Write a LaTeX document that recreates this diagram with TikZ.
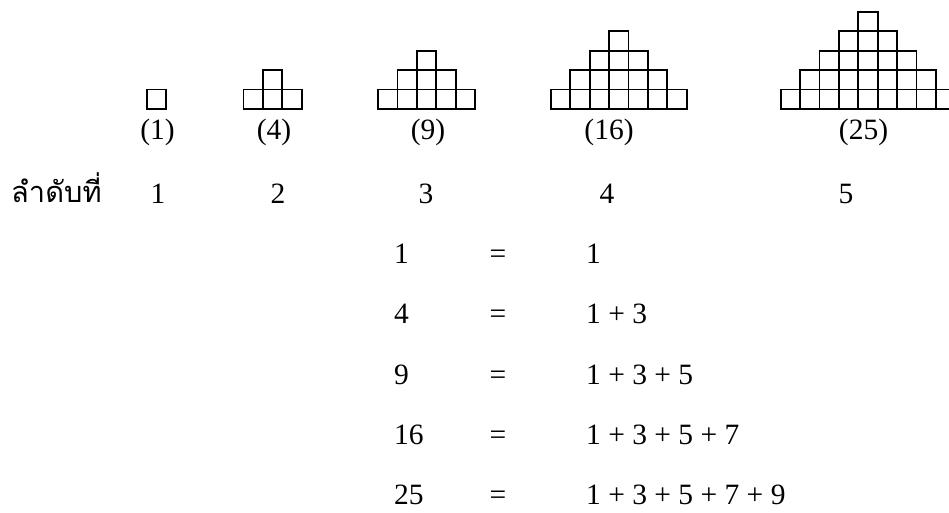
\documentclass[tikz,border=0pt]{standalone}
\usepackage{fontspec}
\setmainfont{Liberation Serif}
\newfontfamily\thaifont[Script=Thai]{Loma}
\begin{document}
\begin{tikzpicture}[x=1pt,y=-1pt,
  sq/.style={line width=1.8pt},
  txt/.style={font=\fontsize{29.5}{32}\selectfont, inner sep=0pt, anchor=base},
  lft/.style={txt, anchor=base west}]
\clip (0,0) rectangle (949,513);
\def\s{19.4}
\foreach \n/\cx in {1/156.5,2/272.5,3/426.6,4/618.7,5/868}{
  \foreach \r in {1,...,\n}{
    \pgfmathtruncatemacro\k{2*(\n-\r)+1}
    \foreach \j in {1,...,\k}{
      \draw[sq] ({\cx-\k*\s/2+(\j-1)*\s},{109-(\r-1)*\s}) rectangle ++(\s,-\s);
    }
  }
}
% pyramid labels
\node[txt] (c1) at (157.5,140) {(1)};
\node[txt] (c2) at (274,140) {(4)};
\node[txt] (c3) at (428,140) {(9)};
\node[txt] (c4) at (609,140) {(16)};
\node[txt] (c5) at (863.5,140) {(25)};
% sequence
\node[txt, anchor=base west, font=\thaifont\fontsize{29}{32}\selectfont] (th) at (11,202) {ลำดับที่};
\node[txt] (s1) at (158,203) {1};
\node[txt] (s2) at (278,203) {2};
\node[txt] (s3) at (426,203) {3};
\node[txt] (s4) at (607,203) {4};
\node[txt] (s5) at (846,203) {5};
% equations
\foreach \i/\a/\b/\yy in {1/1/1/263, 2/4/1 + 3/323, 3/9/1 + 3 + 5/384, 4/16/1 + 3 + 5 + 7/444, 5/25/1 + 3 + 5 + 7 + 9/504}{
  \node[lft] (l\i) at (394,\yy) {\a};
  \node[txt] (e\i) at (498,\yy) {=};
  \node[lft] (r\i) at (586,\yy) {\b};
}
\end{tikzpicture}
\end{document}
